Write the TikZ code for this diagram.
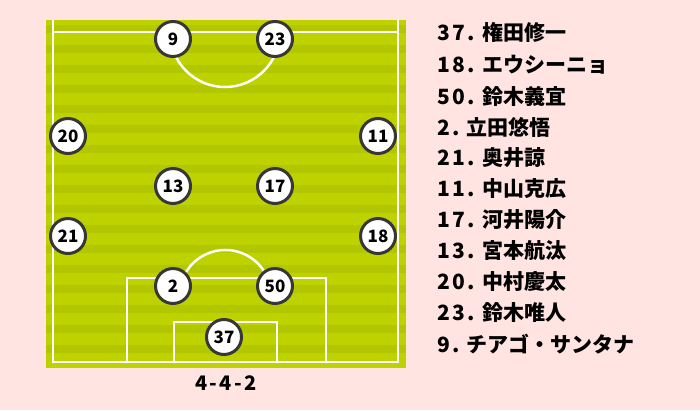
\documentclass[tikz,border=0pt]{standalone}
\usepackage{fontspec}
\newfontfamily\jp{Noto Sans CJK JP}
\newfontfamily\jpnum{Noto Sans CJK JP}[LetterSpace=12]
\definecolor{bgpink}{RGB}{255,228,225}
\definecolor{grassA}{RGB}{190,210,0}
\definecolor{grassB}{RGB}{178,199,0}
\definecolor{ringgray}{RGB}{55,55,55}
\newcommand{\numpart}[1]{{\jpnum\bfseries #1}\hspace{7pt}}
\tikzset{
  player/.style={circle,draw=ringgray,line width=3pt,fill=white,minimum size=35pt,inner sep=0pt,font=\jp\bfseries\fontsize{17}{17}\selectfont},
  pline/.style={draw=white,line width=2.5pt},
  entry/.style={anchor=west,inner sep=0pt,font=\jp\bfseries\fontsize{21}{23}\selectfont}
}
\begin{document}
\begin{tikzpicture}[x=1pt,y=-1pt]
\useasboundingbox (0,0) rectangle (700,410);
\fill[bgpink] (0,0) rectangle (700,410);
% pitch
\fill[grassA] (46,20) rectangle (406,368);
\foreach \i in {0,...,16} {
  \fill[grassB] (46,{25+\i*20}) rectangle (406,{33+\i*20});
}
\begin{scope}[pline]
\draw (53,20) -- (53,362) -- (398,362) -- (398,20);
\draw (53,32) -- (398,32);
\draw (127,362) -- (127,278) -- (326,278) -- (326,362);
\draw (174,362) -- (174,322) -- (277,322) -- (277,362);
\draw (170,32) arc[start angle=180,end angle=0,radius=55];
\draw (183,278) arc[start angle=203,end angle=337,radius=46];
\end{scope}
% players
\node[player] (p9) at (173,39) {9};
\node[player] (p23) at (275,39) {23};
\node[player] (p20) at (68,136) {20};
\node[player] (p11) at (378,136) {11};
\node[player] (p13) at (173,186) {13};
\node[player] (p17) at (275,186) {17};
\node[player] (p21) at (68,236) {21};
\node[player] (p18) at (378,236) {18};
\node[player] (p2) at (173,286) {2};
\node[player] (p50) at (275,286) {50};
\node[player] (p37) at (224,337) {37};
\node[font=\jpnum\bfseries\fontsize{20}{20}\selectfont] (form) at (226,383) {4-4-2};
% list
\node[entry] (l1) at (437,32) {\numpart{37.}権田修一};
\node[entry] (l2) at (437,65) {\numpart{18.}エウシーニョ};
\node[entry] (l3) at (437,96) {\numpart{50.}鈴木義宜};
\node[entry] (l4) at (437,127) {\numpart{2.}立田悠悟};
\node[entry] (l5) at (437,158) {\numpart{21.}奥井諒};
\node[entry] (l6) at (437,189) {\numpart{11.}中山克広};
\node[entry] (l7) at (437,220) {\numpart{17.}河井陽介};
\node[entry] (l8) at (437,251) {\numpart{13.}宮本航汰};
\node[entry] (l9) at (437,282) {\numpart{20.}中村慶太};
\node[entry] (l10) at (437,313) {\numpart{23.}鈴木唯人};
\node[entry] (l11) at (437,344) {\numpart{9.}チアゴ・サンタナ};
\end{tikzpicture}
\end{document}
